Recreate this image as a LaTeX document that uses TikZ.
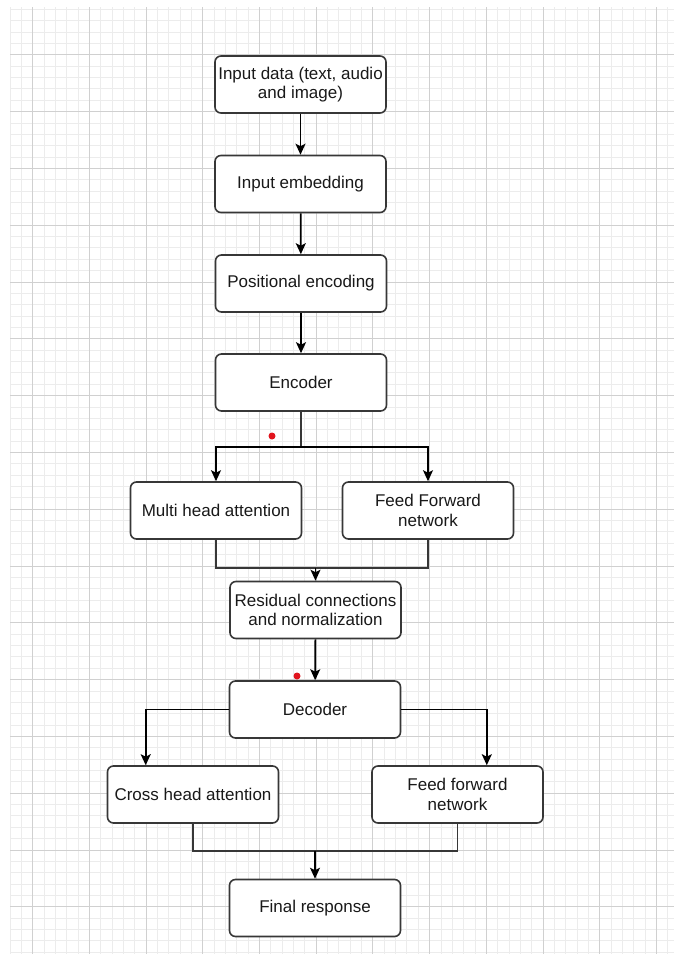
\documentclass[tikz,border=0pt]{standalone}
\usepackage{fontspec}
\setmainfont{Liberation Sans}
\usepackage{xcolor}
\usetikzlibrary{arrows.meta}
\definecolor{gridmajor}{RGB}{208,208,208}
\definecolor{gridminor}{RGB}{236,236,236}
\definecolor{boxline}{RGB}{55,55,55}
\definecolor{dotred}{RGB}{225,20,30}
\tikzset{
  stage/.style={draw=boxline,line width=1.6pt,rounded corners=6pt,fill=white,
    minimum width=171pt,minimum height=57pt,align=center,inner sep=2pt,
    text=black!90,font=\fontsize{17}{19.5}\selectfont},
  flow/.style={line width=1.7pt,-{Stealth[length=11pt,width=10pt,inset=2.5pt]}},
  merge/.style={line width=1.6pt,draw=boxline}
}

\begin{document}
\begin{tikzpicture}[x=1pt,y=-1pt]
\useasboundingbox (0,0) rectangle (680,959);
\fill[white] (0,0) rectangle (680,959);
% grid
\foreach \i in {0,...,58}{\pgfmathsetmacro{\gx}{round(9.6+11.34*\i)+0.5}\draw[gridminor,line width=1pt] (\gx,7)--(\gx,954);}
\foreach \i in {0,...,83}{\pgfmathsetmacro{\gy}{round(8.9+11.36*\i)+0.5}\draw[gridminor,line width=1pt] (10,\gy)--(674,\gy);}
\foreach \i in {0,...,11}{\pgfmathsetmacro{\gx}{round(32.3+56.7*\i)+0.5}\draw[gridmajor,line width=1.5pt] (\gx,7)--(\gx,954);}
\foreach \i in {0,...,15}{\pgfmathsetmacro{\gy}{round(54.3+56.8*\i)+0.5}\draw[gridmajor,line width=1.5pt] (10,\gy)--(674,\gy);}
% stages
\node[stage] (inp) at (300.5,84.5) {Input data (text, audio\\and image)};
\node[stage] (emb) at (300.5,184) {Input embedding};
\node[stage] (pos) at (301,283.5) {Positional encoding};
\node[stage] (enc) at (301,382.5) {Encoder};
\node[stage] (mha) at (216,510.5) {Multi head attention};
\node[stage] (ffn) at (428,510.5) {Feed Forward\\network};
\node[stage] (res) at (315.5,610) {Residual connections\\and normalization};
\node[stage] (dec) at (315,709.5) {Decoder};
\node[stage] (cha) at (193,794.5) {Cross head attention};
\node[stage] (ffd) at (457.5,794.5) {Feed forward\\network};
\node[stage] (fin) at (315,908) {Final response};
\coordinate (esplit) at (301,447);
\coordinate (rjoin) at (315.5,568);
\coordinate (fjoin) at (315,851);
% connectors
\draw[flow] (inp) -- (emb);
\draw[flow] (emb) -- (pos);
\draw[flow] (pos) -- (enc);
\draw[merge] (enc) -- (esplit);
\draw[flow] (esplit) -| (mha);
\draw[flow] (esplit) -| (ffn);
\draw[merge] (mha) |- (rjoin);
\draw[merge] (ffn) |- (rjoin);
\draw[flow] (rjoin) -- (res);
\draw[flow] (res) -- (dec);
\draw[flow] (dec.west) -| ([xshift=39pt]cha.north west);
\draw[flow] (dec.east) -| ([xshift=-57pt]ffd.north east);
\draw[merge] (cha) |- (fjoin);
\draw[merge] (ffd) |- (fjoin);
\draw[flow] (fjoin) -- (fin);
% stray marks
\fill[dotred] (272,436) circle (3.5pt);
\fill[dotred] (297,676) circle (3.5pt);
\end{tikzpicture}
\end{document}
